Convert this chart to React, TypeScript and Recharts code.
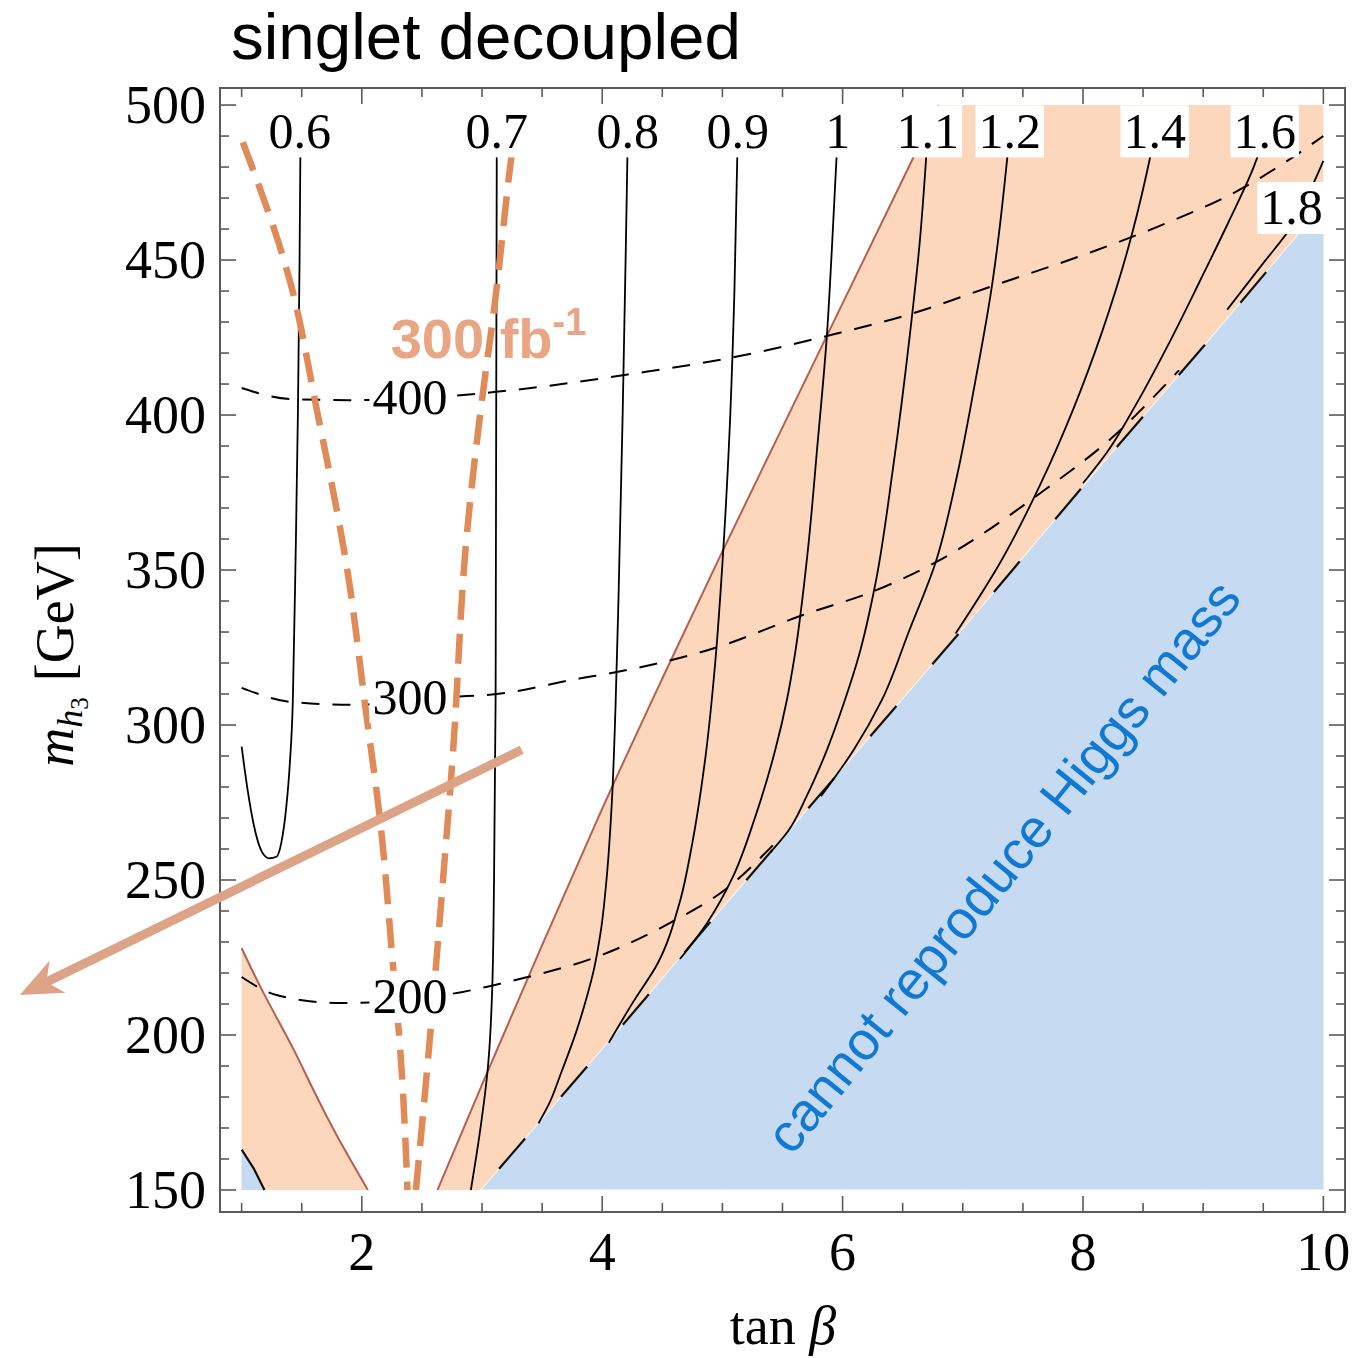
import {
  ComposedChart,
  Area,
  Line,
  Scatter,
  XAxis,
  YAxis,
  ReferenceArea,
  ReferenceLine,
} from 'recharts'

// axis ranges and ticks
const X_DOMAIN: [number, number] = [0.82, 10.18]
const Y_DOMAIN: [number, number] = [142.9, 505.5]
const X_TICKS = [1, 1.5, 2, 2.5, 3, 3.5, 4, 4.5, 5, 5.5, 6, 6.5, 7, 7.5, 8, 8.5, 9, 9.5, 10]
const X_LABELED = [2, 4, 6, 8, 10]
const Y_TICKS = [
  150, 160, 170, 180, 190, 200, 210, 220, 230, 240, 250, 260, 270, 280, 290, 300, 310, 320,
  330, 340, 350, 360, 370, 380, 390, 400, 410, 420, 430, 440, 450, 460, 470, 480, 490, 500,
]
const Y_LABELED = [150, 200, 250, 300, 350, 400, 450, 500]

// shaded regions (upper edge of each band, lower edge is m = 150)
const PEACH_X = [2.63, 3.0, 3.5, 4.0, 4.5, 5.0, 5.5, 6.0, 6.5, 6.8, 8.0, 10.0]
const PEACH_TOP = [150, 184, 229, 273, 315, 356, 396, 436, 476, 500, 500, 500]
const PEACH_LEFT_X = [1.0, 1.15, 1.3, 1.45, 1.6, 1.8, 2.05]
const PEACH_LEFT_TOP = [228, 216, 205, 194, 182, 167, 150]
const BLUE_X = [2.99, 4, 5, 6, 7, 8, 9, 10]
const BLUE_TOP = [150, 195.5, 241, 286, 331, 377, 422, 468]
const BLUE_CORNER_X = [1.0, 1.1, 1.19]
const BLUE_CORNER_TOP = [163, 157, 150]

// solid contours [tan b, m_h3]
const C06 = [[1.0, 293], [1.05, 279], [1.1, 268], [1.17, 259], [1.23, 257], [1.29, 257.5], [1.33, 262], [1.37, 273], [1.4, 287], [1.426, 308], [1.447, 350], [1.468, 400], [1.482, 450], [1.49, 491]]
const C07 = [[2.907, 150], [2.98, 168], [3.05, 190], [3.085, 215], [3.1, 250], [3.113, 308], [3.118, 400], [3.123, 491]]
const C08 = [[3.47, 171.5], [3.56, 178], [3.66, 188], [3.78, 200.6], [3.87, 212], [3.93, 221], [3.99, 234], [4.04, 252], [4.08, 275], [4.11, 305], [4.135, 340], [4.17, 400], [4.196, 453], [4.213, 491]]
const C09 = [[4.055, 197.5], [4.263, 211], [4.46, 223], [4.646, 243], [4.75, 262], [4.86, 290], [4.94, 320], [5.0, 352], [5.06, 395], [5.1, 440], [5.128, 491]]
const C10 = [[4.646, 224.5], [4.87, 236], [5.087, 251], [5.27, 270], [5.44, 292], [5.536, 308], [5.6, 322], [5.71, 356], [5.79, 390], [5.87, 426], [5.91, 453], [5.96, 491]]
const C11 = [[5.4, 259], [5.55, 266], [5.7, 277], [5.87, 292], [6.01, 307], [6.14, 323], [6.27, 345], [6.42, 383], [6.56, 426], [6.64, 455], [6.709, 491]]
const C12 = [[5.82, 277], [6.093, 292], [6.326, 308], [6.55, 330], [6.775, 352.6], [6.95, 380], [7.1, 410], [7.24, 441], [7.283, 453], [7.391, 491]]
const C14 = [[6.94, 329.5], [7.32, 353], [7.65, 378], [7.92, 402], [8.16, 427], [8.37, 453], [8.53, 478], [8.6, 491]]
const C16 = [[8.0, 378], [8.2, 388], [8.45, 404], [8.7, 422], [8.97, 443], [9.22, 463], [9.42, 480], [9.52, 491]]
const C18 = [[9.2, 434], [9.5, 449], [9.72, 460], [9.86, 470], [10.0, 482]]
const SOLID_CONTOURS = [C07, C08, C09, C10, C11, C12, C14, C16, C18]

// dashed m_h2 contours
const D400 = [[1.0, 408.7], [1.4, 405.2], [1.9, 404.8], [2.7, 406], [3.1, 407.4], [3.8, 410.7], [4.2, 413], [5.1, 418.7], [5.9, 425.8], [6.6, 433], [7.2, 441], [8.1, 453], [8.7, 462], [9.3, 472.6], [9.7, 482], [10.0, 490]]
const D300 = [[1.0, 312], [1.42, 307.4], [1.93, 306.5], [2.73, 309], [3.12, 310], [3.81, 315], [4.11, 317], [4.95, 325], [5.67, 335.5], [6.28, 343.5], [6.78, 352.6], [7.68, 375.8], [8.25, 393], [8.8, 414.5]]
const D200 = [[1.0, 218.7], [1.29, 212.9], [1.82, 210.3], [2.84, 213.9], [3.09, 216], [3.38, 218.7], [3.94, 225], [4.58, 236.5], [5.05, 247.7], [5.44, 262]]
const DASHED_CONTOURS = [D400, D300, D200]

// 300 fb^-1 reach
const REACH_LEFT = [[1.01, 488], [1.4, 443.5], [1.626, 401.6], [1.875, 351], [2.04, 302.6], [2.15, 270], [2.26, 222], [2.32, 195], [2.38, 150]]
const REACH_RIGHT = [[2.45, 150], [2.57, 200.6], [2.65, 238], [2.76, 292], [2.87, 360], [3.0, 405], [3.1, 434], [3.24, 482], [3.3, 500]]

// labels
const CONTOUR_LABELS = [
  { x: 1.484, y: 491.5, t: '0.6' },
  { x: 3.123, y: 491.5, t: '0.7' },
  { x: 4.213, y: 491.5, t: '0.8' },
  { x: 5.128, y: 491.5, t: '0.9' },
  { x: 5.96, y: 491.5, t: '1' },
  { x: 6.709, y: 491.5, t: '1.1' },
  { x: 7.391, y: 491.5, t: '1.2' },
  { x: 8.597, y: 491.5, t: '1.4' },
  { x: 9.512, y: 491.5, t: '1.6' },
  { x: 9.735, y: 466.8, t: '1.8' },
]
const MASS_LABELS = [
  { x: 2.4, y: 405.8, t: '400' },
  { x: 2.4, y: 309, t: '300' },
  { x: 2.4, y: 212.3, t: '200' },
]
const LUMI_TEXT = [{ x: 2.24, y: 418.4 }]
const EXCLUDED_TEXT = [{ x: 7.333, y: 254.5 }]
const ARROW = [{ x: 3.33, y: 292 }, { x: -0.845, y: 212.9 }]

const PLOT = { left: 220, top: 88, right: 1345, bottom: 1212 }
const SERIF = '"Liberation Serif", "Times New Roman", serif'
const SANS = '"Liberation Sans", Arial, sans-serif'
const AXIS_GREY = '#5a5a5a'
const PEACH = '#FDD7BB'
const BLUE = '#C6DBF1'

const toPts = (arr: number[][]) => arr.map(([x, y]) => ({ x, y }))
const band = (xs: number[], tops: number[]) => xs.map((x, i) => ({ x, band: [150, tops[i]] }))

const peachData = band(PEACH_X, PEACH_TOP)
const peachLeftData = band(PEACH_LEFT_X, PEACH_LEFT_TOP)
const blueData = band(BLUE_X, BLUE_TOP)
const blueCornerData = band(BLUE_CORNER_X, BLUE_CORNER_TOP)
const redEdge = PEACH_X.slice(0, 10).map((x, i) => ({ x, y: PEACH_TOP[i] }))
const redEdgeLeft = PEACH_LEFT_X.map((x, i) => ({ x, y: PEACH_LEFT_TOP[i] }))
const blueEdge = BLUE_X.map((x, i) => ({ x, y: BLUE_TOP[i] }))
const blueCornerEdge = BLUE_CORNER_X.map((x, i) => ({ x, y: BLUE_CORNER_TOP[i] }))

const textWidth = (t: string, size: number) =>
  t.split('').reduce((w, ch) => w + (ch === '.' ? 0.25 : 0.5) * size, 0)

function XTick(props: any) {
  const { x, payload } = props
  const v = payload.value
  const major = X_LABELED.includes(v)
  const len = major ? 16 : 9
  return (
    <g>
      <line x1={x} x2={x} y1={PLOT.bottom} y2={PLOT.bottom - len} stroke={AXIS_GREY} strokeWidth={1.6} />
      <line x1={x} x2={x} y1={PLOT.top} y2={PLOT.top + len} stroke={AXIS_GREY} strokeWidth={1.6} />
      {major && (
        <text x={x} y={PLOT.bottom + 58} textAnchor="middle" fontFamily={SERIF} fontSize={54} fill="#000">
          {v}
        </text>
      )}
    </g>
  )
}

function YTick(props: any) {
  const { y, payload } = props
  const v = payload.value
  const major = Y_LABELED.includes(v)
  const len = major ? 16 : 9
  return (
    <g>
      <line x1={PLOT.left} x2={PLOT.left + len} y1={y} y2={y} stroke={AXIS_GREY} strokeWidth={1.6} />
      <line x1={PLOT.right} x2={PLOT.right - len} y1={y} y2={y} stroke={AXIS_GREY} strokeWidth={1.6} />
      {major && (
        <text x={PLOT.left - 14} y={y + 18} textAnchor="end" fontFamily={SERIF} fontSize={54} fill="#000">
          {v}
        </text>
      )}
    </g>
  )
}

const XLabel = () => (
  <text x={783} y={1344} textAnchor="middle" fontFamily={SERIF} fontSize={54} fill="#000">
    tan <tspan fontStyle="italic">β</tspan>
  </text>
)

const YLabel = () => (
  <text transform="translate(73,655) rotate(-90)" textAnchor="middle" fontFamily={SERIF} fontSize={54} fill="#000">
    <tspan fontStyle="italic">m</tspan>
    <tspan fontStyle="italic" fontSize={36} dy={9}>h</tspan>
    <tspan fontSize={25} dy={6}>3</tspan>
    <tspan dx={16} dy={-15}>[GeV]</tspan>
  </text>
)

const boxLabel = (size: number) => (props: any) => {
  const { cx, cy, payload } = props
  const w = textWidth(payload.t, size) + 6
  return (
    <g>
      <rect x={cx - w / 2} y={cy - 26} width={w} height={52} fill="#fff" />
      <text x={cx} y={cy + size * 0.33} textAnchor="middle" fontFamily={SERIF} fontSize={size} fill="#000">
        {payload.t}
      </text>
    </g>
  )
}

const lumiLabel = (props: any) => {
  const { cx, cy } = props
  return (
    <text x={cx} y={cy} fontFamily={SANS} fontWeight="bold" fontSize={56} fill="#E9A07E" fillOpacity={0.95}>
      300 fb
      <tspan fontSize={38} dy={-23}>-1</tspan>
    </text>
  )
}

const excludedLabel = (props: any) => {
  const { cx, cy } = props
  return (
    <text
      x={cx}
      y={cy}
      transform={`rotate(-51 ${cx} ${cy})`}
      textAnchor="middle"
      dominantBaseline="central"
      fontFamily={SANS}
      fontSize={54}
      fill="#1279D3"
    >
      cannot reproduce Higgs mass
    </text>
  )
}

function ArrowShape(props: any) {
  const { x1, y1, x2, y2 } = props
  const dx = x2 - x1
  const dy = y2 - y1
  const len = Math.hypot(dx, dy)
  const ux = dx / len
  const uy = dy / len
  const head = 42
  const half = 18
  const bx = x2 - ux * head
  const by = y2 - uy * head
  const nx = x2 - ux * head * 0.7
  const ny = y2 - uy * head * 0.7
  const pts = [
    `${x2},${y2}`,
    `${bx - uy * half},${by + ux * half}`,
    `${nx},${ny}`,
    `${bx + uy * half},${by - ux * half}`,
  ].join(' ')
  return (
    <g>
      <line x1={x1} y1={y1} x2={nx} y2={ny} stroke="#DDA386" strokeWidth={9} />
      <polygon points={pts} fill="#DDA386" />
    </g>
  )
}

export default function App() {
  return (
    <div style={{ position: 'absolute', left: 0, top: 0, width: 1367, height: 1358, background: '#fff' }}>
      <div
        style={{
          position: 'absolute',
          left: 231,
          top: 4,
          fontFamily: SANS,
          fontSize: 65.5,
          lineHeight: 1,
          color: '#000',
          whiteSpace: 'nowrap',
        }}
      >
        singlet decoupled
      </div>
      <ComposedChart width={1367} height={1358} margin={{ top: 88, right: 22, bottom: 0, left: 0 }}>
        <XAxis
          dataKey="x"
          type="number"
          domain={X_DOMAIN}
          allowDataOverflow
          ticks={X_TICKS}
          interval={0}
          height={146}
          tickSize={0}
          tickMargin={0}
          tickLine={false}
          axisLine={false}
          tick={XTick}
          label={XLabel}
        />
        <YAxis
          dataKey="y"
          type="number"
          domain={Y_DOMAIN}
          allowDataOverflow
          ticks={Y_TICKS}
          interval={0}
          width={220}
          tickSize={0}
          tickMargin={0}
          tickLine={false}
          axisLine={false}
          tick={YTick}
          label={YLabel}
        />

        <Area data={peachData} dataKey="band" type="linear" fill={PEACH} fillOpacity={1} stroke="none" isAnimationActive={false} />
        <Area data={peachLeftData} dataKey="band" type="natural" fill={PEACH} fillOpacity={1} stroke="none" isAnimationActive={false} />
        <Area data={blueData} dataKey="band" type="linear" fill={BLUE} fillOpacity={1} stroke="#fff" strokeWidth={1} isAnimationActive={false} />
        <Area data={blueCornerData} dataKey="band" type="linear" fill={BLUE} fillOpacity={1} stroke="none" isAnimationActive={false} />

        <Line data={redEdge} dataKey="y" type="monotone" stroke="#B5604E" strokeWidth={2} dot={false} isAnimationActive={false} />
        <Line data={redEdgeLeft} dataKey="y" type="natural" stroke="#B5604E" strokeWidth={2} dot={false} isAnimationActive={false} />
        <Line data={blueEdge} dataKey="y" type="linear" stroke="#111" strokeWidth={2.2} strokeDasharray="40 55" strokeDashoffset={-28} dot={false} isAnimationActive={false} />
        <Line data={blueCornerEdge} dataKey="y" type="linear" stroke="#111" strokeWidth={2.2} dot={false} isAnimationActive={false} />

        <Line data={toPts(C06)} dataKey="y" type="monotone" stroke="#000" strokeWidth={1.8} dot={false} isAnimationActive={false} />
        {SOLID_CONTOURS.map((c, i) => (
          <Line key={`c${i}`} data={toPts(c)} dataKey="y" type="monotoneY" stroke="#000" strokeWidth={1.8} dot={false} isAnimationActive={false} />
        ))}
        {DASHED_CONTOURS.map((c, i) => (
          <Line key={`d${i}`} data={toPts(c)} dataKey="y" type="monotone" stroke="#000" strokeWidth={2} strokeDasharray="18 13" dot={false} isAnimationActive={false} />
        ))}

        <Scatter data={LUMI_TEXT} shape={lumiLabel} isAnimationActive={false} />

        <Line data={toPts(REACH_LEFT)} dataKey="y" type="monotoneY" stroke="#E08A58" strokeWidth={6.5} strokeDasharray="30 14" dot={false} isAnimationActive={false} />
        <Line data={toPts(REACH_RIGHT)} dataKey="y" type="monotoneY" stroke="#E08A58" strokeWidth={6.5} strokeDasharray="30 14" dot={false} isAnimationActive={false} />

        <Scatter data={CONTOUR_LABELS} shape={boxLabel(50)} isAnimationActive={false} />
        <Scatter data={MASS_LABELS} shape={boxLabel(50)} isAnimationActive={false} />
        <Scatter data={EXCLUDED_TEXT} shape={excludedLabel} isAnimationActive={false} />

        <ReferenceArea
          x1={X_DOMAIN[0]}
          x2={X_DOMAIN[1]}
          y1={Y_DOMAIN[0]}
          y2={Y_DOMAIN[1]}
          fill="none"
          stroke={AXIS_GREY}
          strokeWidth={2}
          ifOverflow="visible"
        />
        <ReferenceLine segment={ARROW} ifOverflow="visible" shape={ArrowShape} />
      </ComposedChart>
    </div>
  )
}
